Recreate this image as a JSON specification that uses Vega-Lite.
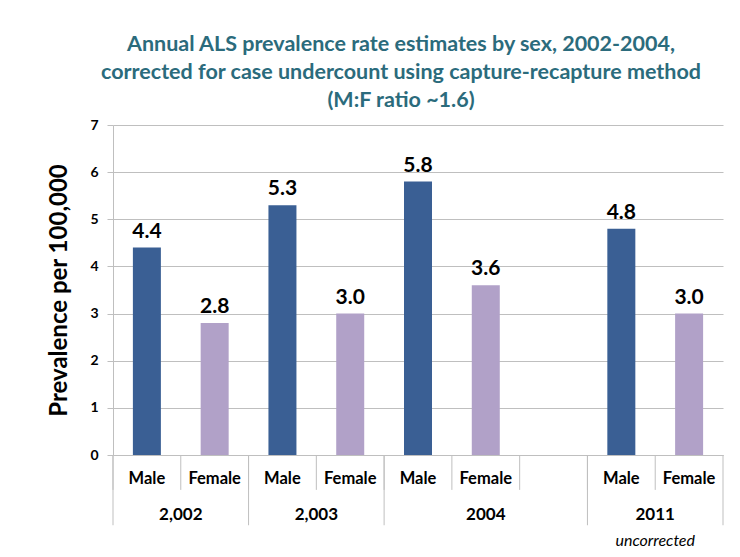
{
  "$schema": "https://vega.github.io/schema/vega-lite/v6.json",
  "width": 610,
  "height": 330,
  "autosize": {"type": "none"},
  "padding": {"left": 113, "top": 125, "right": 17, "bottom": 102},
  "background": "white",
  "config": {"view": {"stroke": null}},
  "title": {
    "text": ["Annual ALS prevalence rate estimates by sex, 2002-2004,", "corrected for case undercount using capture-recapture method", "(M:F ratio ~1.6)"],
    "font": "Lato",
    "fontSize": 21.5,
    "fontWeight": "bold",
    "color": "#2B6B7C",
    "lineHeight": 28,
    "anchor": "middle",
    "offset": 7,
    "dx": -17
  },
  "data": {
    "values": [
      {"slot": "2002-M", "year": "2,002", "sex": "Male", "value": 4.4},
      {"slot": "2002-F", "year": "2,002", "sex": "Female", "value": 2.8},
      {"slot": "2003-M", "year": "2,003", "sex": "Male", "value": 5.3},
      {"slot": "2003-F", "year": "2,003", "sex": "Female", "value": 3.0},
      {"slot": "2004-M", "year": "2004", "sex": "Male", "value": 5.8},
      {"slot": "2004-F", "year": "2004", "sex": "Female", "value": 3.6},
      {"slot": "2011-M", "year": "2011", "sex": "Male", "value": 4.8, "note": "uncorrected"},
      {"slot": "2011-F", "year": "2011", "sex": "Female", "value": 3.0}
    ]
  },
  "encoding": {
    "x": {
      "field": "slot",
      "type": "nominal",
      "sort": null,
      "scale": {"domain": ["2002-M", "2002-F", "2003-M", "2003-F", "2004-M", "2004-F", "2004-G", "2011-M", "2011-F"], "paddingInner": 0, "paddingOuter": 0},
      "axis": {
        "orient": "bottom",
        "title": null,
        "labels": false,
        "ticks": false,
        "domainColor": "#BFBFBF",
        "grid": false
      }
    }
  },
  "layer": [
    {
      "mark": {"type": "bar", "size": 28},
      "encoding": {
        "y": {
          "field": "value",
          "type": "quantitative",
          "scale": {"domain": [0, 7], "nice": false},
          "axis": {
            "tickCount": 7,
            "title": "Prevalence per 100,000",
            "titleFont": "Lato",
            "titleFontSize": 24,
            "titleFontWeight": "bold",
            "titleColor": "#000000",
            "titlePadding": 18,
            "labelFont": "Lato",
            "labelFontSize": 14,
            "labelFontWeight": "bold",
            "labelColor": "#000000",
            "labelPadding": 9,
            "tickSize": 6,
            "tickColor": "#BFBFBF",
            "domainColor": "#BFBFBF",
            "gridColor": "#BFBFBF"
          }
        },
        "color": {
          "field": "sex",
          "type": "nominal",
          "scale": {"domain": ["Male", "Female"], "range": ["#3A5F94", "#B1A1C8"]},
          "legend": null
        }
      }
    },
    {
      "mark": {"type": "text", "font": "Lato", "fontSize": 21, "fontWeight": "bold", "color": "#000000", "baseline": "alphabetic", "dy": -10},
      "encoding": {
        "y": {"field": "value", "type": "quantitative"},
        "text": {"field": "value", "type": "quantitative", "format": ".1f"}
      }
    },
    {
      "mark": {"type": "text", "font": "Lato", "fontSize": 16.5, "fontWeight": "bold", "color": "#000000", "baseline": "middle"},
      "encoding": {
        "y": {"datum": -0.5},
        "text": {"field": "sex"}
      }
    },
    {
      "transform": [{"filter": "datum.sex == 'Male' && datum.year != '2004'"}],
      "mark": {"type": "text", "font": "Lato", "fontSize": 17, "fontWeight": "bold", "color": "#000000", "baseline": "middle"},
      "encoding": {
        "x": {"field": "slot", "type": "nominal", "bandPosition": 1},
        "y": {"datum": -1.27},
        "text": {"field": "year"}
      }
    },
    {
      "transform": [{"filter": "datum.sex == 'Female' && datum.year == '2004'"}],
      "mark": {"type": "text", "font": "Lato", "fontSize": 17, "fontWeight": "bold", "color": "#000000", "baseline": "middle"},
      "encoding": {
        "y": {"datum": -1.27},
        "text": {"field": "year"}
      }
    },
    {
      "mark": {"type": "rule", "color": "#BFBFBF", "strokeWidth": 1},
      "encoding": {
        "x": {"field": "slot", "type": "nominal", "bandPosition": 0},
        "y": {"datum": 0},
        "y2": {"datum": -0.74}
      }
    },
    {
      "transform": [{"filter": "datum.slot == '2004-F'"}],
      "mark": {"type": "rule", "color": "#BFBFBF", "strokeWidth": 1},
      "encoding": {
        "x": {"field": "slot", "type": "nominal", "bandPosition": 1},
        "y": {"datum": 0},
        "y2": {"datum": -0.74}
      }
    },
    {
      "transform": [{"filter": "datum.sex == 'Male'"}],
      "mark": {"type": "rule", "color": "#BFBFBF", "strokeWidth": 1},
      "encoding": {
        "x": {"field": "slot", "type": "nominal", "bandPosition": 0},
        "y": {"datum": 0},
        "y2": {"datum": -1.49}
      }
    },
    {
      "transform": [{"filter": "datum.slot == '2011-F'"}],
      "mark": {"type": "rule", "color": "#BFBFBF", "strokeWidth": 1},
      "encoding": {
        "x": {"field": "slot", "type": "nominal", "bandPosition": 1},
        "y": {"datum": 0},
        "y2": {"datum": -1.49}
      }
    },
    {
      "transform": [{"filter": "isValid(datum.note)"}],
      "mark": {"type": "text", "font": "Lato", "fontSize": 16, "fontStyle": "italic", "color": "#000000", "baseline": "middle"},
      "encoding": {
        "x": {"field": "slot", "type": "nominal", "bandPosition": 1},
        "y": {"datum": -1.83},
        "text": {"field": "note"}
      }
    }
  ]
}
